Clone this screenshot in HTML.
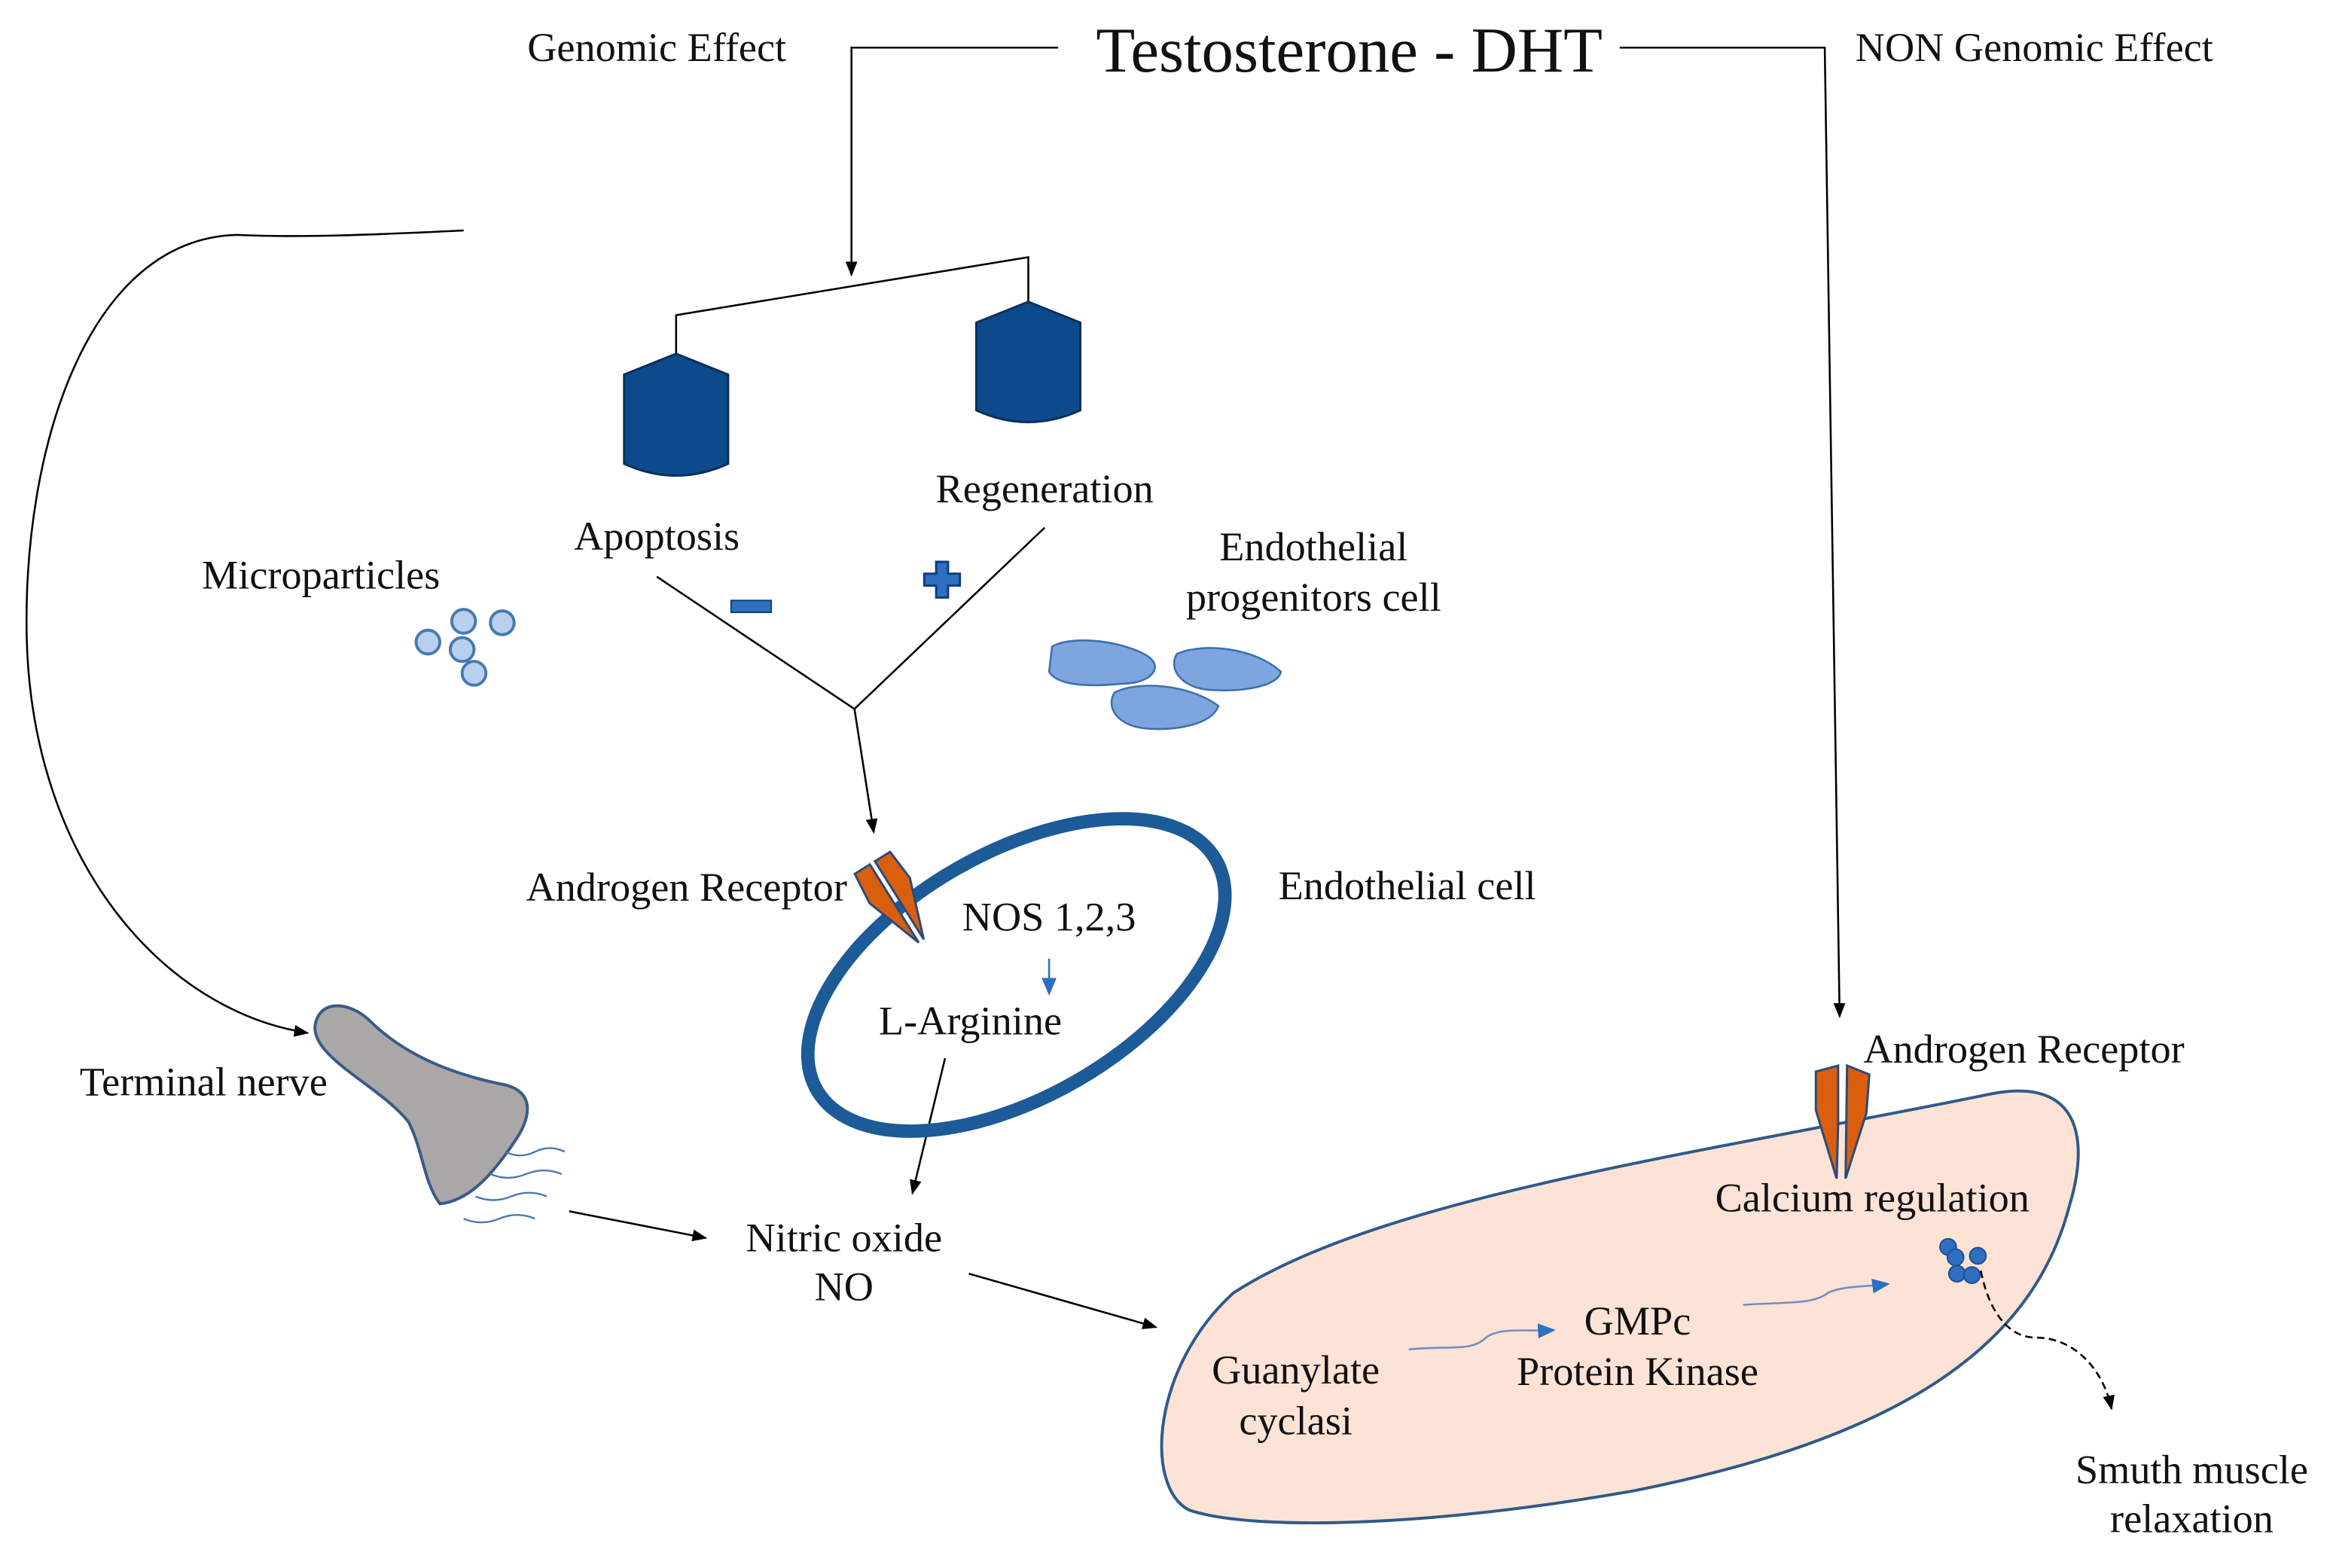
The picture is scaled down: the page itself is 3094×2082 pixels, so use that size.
<!DOCTYPE html>
<html><head><meta charset="utf-8"><style>
html,body{margin:0;padding:0;background:#fff;}
svg{display:block;}
text{font-family:"Liberation Serif",serif;fill:#111;}
</style></head><body>
<svg width="3094" height="2082" viewBox="0 0 1568 1055" xmlns="http://www.w3.org/2000/svg">
<defs>
<marker id="ah" markerWidth="10" markerHeight="10" refX="9" refY="5" orient="auto" markerUnits="userSpaceOnUse"><path d="M0,1 L10,5 L0,9 Z" fill="#000"/></marker>
<marker id="bh" markerWidth="12" markerHeight="12" refX="10" refY="6" orient="auto" markerUnits="userSpaceOnUse"><path d="M0,1 L12,6 L0,11 Z" fill="#2e6fc0"/></marker>
</defs>
<rect width="1568" height="1055" fill="#fff"/>

<text x="908" y="48" font-size="43" text-anchor="middle">Testosterone - DHT</text>
<text x="442" y="41" font-size="27.5" text-anchor="middle">Genomic Effect</text>
<text x="1369" y="41" font-size="27.5" text-anchor="middle">NON Genomic Effect</text>

<g stroke="#000" stroke-width="1.3" fill="none">
<path d="M712,32 L573,32 L573,185" marker-end="url(#ah)"/>
<path d="M1090,32 L1228,32 L1238,684" marker-end="url(#ah)"/>
<path d="M455,240 L455,212 L692,173 L692,205"/>
<path d="M442,388 L575,477 L703,355"/>
<path d="M575,477 L588,560" marker-end="url(#ah)"/>
<path d="M636,712 L614,803" marker-end="url(#ah)"/>
<path d="M383,815 L475,833" marker-end="url(#ah)"/>
<path d="M652,857 L778,893" marker-end="url(#ah)"/>
<path d="M312,155 C250,158 200,160 160,158 C60,160 15,300 18,430 C22,580 110,680 207,695" marker-end="url(#ah)"/>
</g>

<g fill="#0d4a8c" stroke="#0a2f5a" stroke-width="1.5">
<path d="M420,252 L455,238 L490,252 L490,312 Q455,328 420,312 Z"/>
<path d="M657,217 L692,203 L727,217 L727,276 Q692,292 657,276 Z"/>
</g>

<text x="442" y="370" font-size="27.5" text-anchor="middle">Apoptosis</text>
<text x="703" y="338" font-size="27.5" text-anchor="middle">Regeneration</text>
<rect x="492" y="404" width="27" height="8" fill="#2e6fc0" stroke="#0d3f7a" stroke-width="1"/>
<path d="M630,378 h8 v8 h8 v8 h-8 v8 h-8 v-8 h-8 v-8 h8 Z" fill="#2e6fc0" stroke="#0d3f7a" stroke-width="1.5"/>

<text x="216" y="396" font-size="27.5" text-anchor="middle">Microparticles</text>
<g fill="#b8d0ee" stroke="#4a78b0" stroke-width="2">
<circle cx="312" cy="418" r="8"/><circle cx="338" cy="419" r="8"/><circle cx="288" cy="432" r="8"/><circle cx="311" cy="437" r="8"/><circle cx="319" cy="453" r="8"/>
</g>

<text x="884" y="377" font-size="27.5" text-anchor="middle">Endothelial</text>
<text x="884" y="411" font-size="27.5" text-anchor="middle">progenitors cell</text>
<g fill="#7ea6de" stroke="#3f6fae" stroke-width="1.3">
<path d="M708,435 C720,428 750,430 770,440 C785,448 775,460 755,460 C735,462 712,462 706,452 Z"/>
<path d="M792,440 C810,432 845,436 862,452 C860,462 835,466 812,464 C795,462 786,450 792,440 Z"/>
<path d="M750,466 C765,458 800,460 820,475 C815,488 790,492 770,490 C752,488 744,476 750,466 Z"/>
</g>

<ellipse cx="684" cy="656" rx="155" ry="82" transform="rotate(-30 684 656)" fill="none" stroke="#1d5a98" stroke-width="9"/>
<g transform="translate(603,606) rotate(-32)">
<path d="M-14,-30 L-2,-30 L-2,32 L-16,-8 Z" fill="#d95f0e" stroke="#2a4a7a" stroke-width="1.5"/>
<path d="M2,-30 L14,-30 L16,-8 L2,32 Z" fill="#d95f0e" stroke="#2a4a7a" stroke-width="1.5"/>
</g>
<text x="462" y="606" font-size="27.5" text-anchor="middle">Androgen Receptor</text>
<text x="706" y="626" font-size="27.5" text-anchor="middle">NOS 1,2,3</text>
<text x="653" y="696" font-size="27.5" text-anchor="middle">L-Arginine</text>
<text x="947" y="605" font-size="27.5" text-anchor="middle">Endothelial cell</text>
<path d="M706,645 L706,668" stroke="#2e6fc0" stroke-width="1.3" marker-end="url(#bh)"/>

<text x="568" y="842" font-size="27.5" text-anchor="middle">Nitric oxide</text>
<text x="568" y="875" font-size="27.5" text-anchor="middle">NO</text>

<text x="137" y="737" font-size="27.5" text-anchor="middle">Terminal nerve</text>
<path d="M212,690 C215,672 235,674 248,686 C270,708 300,722 340,730 C360,735 358,752 345,770 C330,792 315,808 296,810 C285,795 285,775 275,755 C255,730 210,712 212,690 Z" fill="#aaa7a7" stroke="#3a5a88" stroke-width="2"/>
<g stroke="#4a78b0" stroke-width="1.2" fill="none">
<path d="M340,775 q10,5 20,0 q10,-5 20,0"/>
<path d="M330,790 q12,5 24,0 q12,-5 24,0"/>
<path d="M320,805 q12,5 24,0 q12,-5 24,0"/>
<path d="M312,820 q12,5 24,0 q12,-5 24,0"/>
</g>

<path d="M800,1016 C770,1000 775,920 830,870 C930,805 1150,775 1340,736 C1402,724 1405,770 1393,810 C1370,900 1290,965 1100,1003 C960,1028 840,1030 800,1016 Z" fill="#fde3d6" stroke="#2f5a8a" stroke-width="2"/>
<g transform="translate(1240,757)">
<path d="M-18,-36 L-3,-40 L-3,0 L-4,36 L-18,-10 Z" fill="#d95f0e" stroke="#2a4a7a" stroke-width="1.5"/>
<path d="M3,-40 L18,-34 L16,-8 L2,36 Z" fill="#d95f0e" stroke="#2a4a7a" stroke-width="1.5"/>
</g>
<text x="1362" y="715" font-size="27.5" text-anchor="middle">Androgen Receptor</text>
<text x="1260" y="815" font-size="27.5" text-anchor="middle">Calcium regulation</text>
<text x="1102" y="898" font-size="27.5" text-anchor="middle">GMPc</text>
<text x="1102" y="932" font-size="27.5" text-anchor="middle">Protein Kinase</text>
<text x="872" y="931" font-size="27.5" text-anchor="middle">Guanylate</text>
<text x="872" y="965" font-size="27.5" text-anchor="middle">cyclasi</text>
<text x="1475" y="998" font-size="27.5" text-anchor="middle">Smuth muscle</text>
<text x="1475" y="1031" font-size="27.5" text-anchor="middle">relaxation</text>
<g stroke="#6e8fc0" stroke-width="1.3" fill="none">
<path d="M948,908 C975,905 990,910 1000,900 C1010,893 1025,896 1045,895" marker-end="url(#bh)"/>
<path d="M1173,878 C1200,876 1220,878 1230,870 C1240,865 1255,866 1270,864" marker-end="url(#bh)"/>
</g>
<g fill="#2e6fc0" stroke="#1d4f90" stroke-width="1">
<circle cx="1311" cy="839" r="5.5"/><circle cx="1316" cy="846" r="5.5"/><circle cx="1331" cy="845" r="5.5"/><circle cx="1317" cy="857" r="5.5"/><circle cx="1327" cy="858" r="5.5"/>
</g>
<path d="M1333,855 C1338,880 1350,900 1370,900 C1395,900 1415,920 1421,948" fill="none" stroke="#000" stroke-width="1.3" stroke-dasharray="5,3" marker-end="url(#ah)"/>
</svg>
</body></html>
